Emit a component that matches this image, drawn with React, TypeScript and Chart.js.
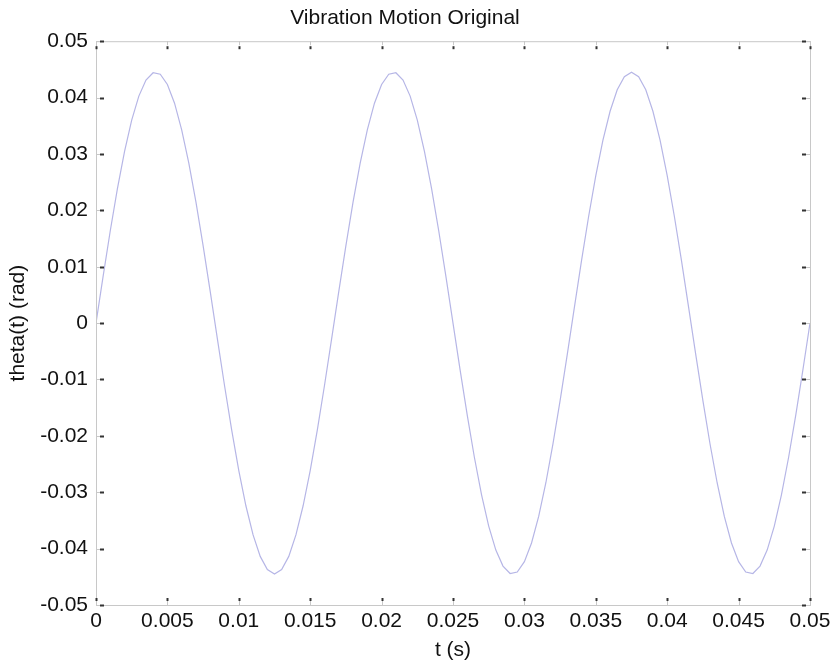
import React, { useEffect, useRef } from "react";
import { Chart, registerables } from "chart.js";

Chart.register(...registerables);

const timeValues = [
  0, 0.0005, 0.001, 0.0015, 0.002, 0.0025, 0.003, 0.0035, 0.004, 0.0045,
  0.005, 0.0055, 0.006, 0.0065, 0.007, 0.0075, 0.008, 0.0085, 0.009, 0.0095,
  0.01, 0.0105, 0.011, 0.0115, 0.012, 0.0125, 0.013, 0.0135, 0.014, 0.0145,
  0.015, 0.0155, 0.016, 0.0165, 0.017, 0.0175, 0.018, 0.0185, 0.019, 0.0195,
  0.02, 0.0205, 0.021, 0.0215, 0.022, 0.0225, 0.023, 0.0235, 0.024, 0.0245,
  0.025, 0.0255, 0.026, 0.0265, 0.027, 0.0275, 0.028, 0.0285, 0.029, 0.0295,
  0.03, 0.0305, 0.031, 0.0315, 0.032, 0.0325, 0.033, 0.0335, 0.034, 0.0345,
  0.035, 0.0355, 0.036, 0.0365, 0.037, 0.0375, 0.038, 0.0385, 0.039, 0.0395,
  0.04, 0.0405, 0.041, 0.0415, 0.042, 0.0425, 0.043, 0.0435, 0.044, 0.0445,
  0.045, 0.0455, 0.046, 0.0465, 0.047, 0.0475, 0.048, 0.0485, 0.049, 0.0495,
  0.05,
];

const thetaValues = [
  0, 0.00834, 0.01638, 0.02384, 0.03046, 0.036, 0.04026, 0.0431, 0.04441, 0.04415,
  0.04232, 0.039, 0.03429, 0.02836, 0.02144, 0.01375, 0.00558, -0.00279, -0.01107, -0.01895,
  -0.02616, -0.03244, -0.03757, -0.04138, -0.04371, -0.0445, -0.04371, -0.04138, -0.03757, -0.03244,
  -0.02616, -0.01895, -0.01107, -0.00279, 0.00558, 0.01375, 0.02144, 0.02836, 0.03429, 0.039,
  0.04232, 0.04415, 0.04441, 0.0431, 0.04026, 0.036, 0.03046, 0.02384, 0.01638, 0.00834,
  0, -0.00834, -0.01638, -0.02384, -0.03046, -0.036, -0.04026, -0.0431, -0.04441, -0.04415,
  -0.04232, -0.039, -0.03429, -0.02836, -0.02144, -0.01375, -0.00558, 0.00279, 0.01107, 0.01895,
  0.02616, 0.03244, 0.03757, 0.04138, 0.04371, 0.0445, 0.04371, 0.04138, 0.03757, 0.03244,
  0.02616, 0.01895, 0.01107, 0.00279, -0.00558, -0.01375, -0.02144, -0.02836, -0.03429, -0.039,
  -0.04232, -0.04415, -0.04441, -0.0431, -0.04026, -0.036, -0.03046, -0.02384, -0.01638, -0.00834,
  0,
];

const xTickValues = [0, 0.005, 0.01, 0.015, 0.02, 0.025, 0.03, 0.035, 0.04, 0.045, 0.05];
const xTickLabels = ["0", "0.005", "0.01", "0.015", "0.02", "0.025", "0.03", "0.035", "0.04", "0.045", "0.05"];
const yTickValues = [-0.05, -0.04, -0.03, -0.02, -0.01, 0, 0.01, 0.02, 0.03, 0.04, 0.05];
const yTickLabels = ["-0.05", "-0.04", "-0.03", "-0.02", "-0.01", "0", "0.01", "0.02", "0.03", "0.04", "0.05"];

const FONT = "'Liberation Sans', Arial, sans-serif";
const BOX_COLOR = "#c8c8c8";
const TICK_COLOR = "#333333";

const matlabBoxPlugin = {
  id: "matlabBox",
  afterDatasetsDraw(chart: any) {
    const { ctx, chartArea } = chart;
    const { left, right, top, bottom } = chartArea;
    ctx.save();
    ctx.strokeStyle = BOX_COLOR;
    ctx.lineWidth = 1;
    ctx.strokeRect(left + 0.5, top + 0.5, right - left, bottom - top);
    const xs = chart.scales.x;
    const ys = chart.scales.y;
    const drawMark = (x1: number, y1: number, x2: number, y2: number, color: string, w: number) => {
      ctx.strokeStyle = color;
      ctx.lineWidth = w;
      ctx.beginPath();
      ctx.moveTo(x1, y1);
      ctx.lineTo(x2, y2);
      ctx.stroke();
    };
    xTickValues.forEach((v) => {
      const px = Math.round(xs.getPixelForValue(v)) + 0.5;
      drawMark(px, bottom, px, bottom - 4, BOX_COLOR, 1);
      drawMark(px, bottom - 4, px, bottom - 7, TICK_COLOR, 2);
      drawMark(px, top, px, top + 4, BOX_COLOR, 1);
      drawMark(px, top + 5, px, top + 8, TICK_COLOR, 2);
    });
    yTickValues.forEach((v) => {
      const py = Math.round(ys.getPixelForValue(v)) + 0.5;
      drawMark(left, py, left + 4, py, BOX_COLOR, 1);
      drawMark(left + 4, py, left + 8, py, TICK_COLOR, 2);
      drawMark(right, py, right - 4, py, BOX_COLOR, 1);
      drawMark(right - 4, py, right - 8, py, TICK_COLOR, 2);
    });
    ctx.restore();
  },
};

export default function App() {
  const canvasRef = useRef<HTMLCanvasElement | null>(null);

  useEffect(() => {
    document.body.style.margin = "0";
    const canvas = canvasRef.current;
    if (!canvas) return;
    const chart = new Chart(canvas, {
      type: "line",
      data: {
        datasets: [
          {
            label: "theta",
            data: timeValues.map((t, i) => ({ x: t, y: thetaValues[i] })),
            borderColor: "rgb(182,182,230)",
            borderWidth: 1.2,
            pointRadius: 0,
            fill: false,
            tension: 0,
          },
        ],
      },
      options: {
        animation: false,
        responsive: false,
        maintainAspectRatio: false,
        layout: { padding: { left: 0, right: 26, top: 0, bottom: 0 } },
        plugins: {
          legend: { display: false },
          tooltip: { enabled: false },
          title: {
            display: true,
            text: "Vibration Motion Original",
            color: "#111111",
            font: { family: FONT, size: 21, weight: "normal" },
            padding: { top: 6, bottom: 10 },
          },
        },
        scales: {
          x: {
            type: "linear",
            min: 0,
            max: 0.05,
            grid: { display: false, drawTicks: false },
            border: { display: false },
            afterBuildTicks: (scale: any) => {
              scale.ticks = xTickValues.map((v) => ({ value: v }));
            },
            afterFit: (scale: any) => {
              scale.height = 63;
            },
            ticks: {
              color: "#111111",
              font: { family: FONT, size: 21 },
              padding: 4,
              maxRotation: 0,
              autoSkip: false,
              callback: (_v: any, i: number) => xTickLabels[i],
            },
            title: {
              display: true,
              text: "t (s)",
              color: "#111111",
              font: { family: FONT, size: 21 },
              padding: { top: 0, bottom: 5 },
            },
          },
          y: {
            type: "linear",
            min: -0.05,
            max: 0.05,
            grid: { display: false, drawTicks: false },
            border: { display: false },
            afterBuildTicks: (scale: any) => {
              scale.ticks = yTickValues.map((v) => ({ value: v }));
            },
            afterFit: (scale: any) => {
              scale.width = 96;
            },
            ticks: {
              color: "#111111",
              font: { family: FONT, size: 21 },
              padding: 8,
              autoSkip: false,
              callback: (_v: any, i: number) => yTickLabels[i],
            },
            title: {
              display: true,
              text: "theta(t) (rad)",
              color: "#111111",
              font: { family: FONT, size: 21 },
              padding: { top: 6, bottom: 0 },
            },
          },
        },
      },
      plugins: [matlabBoxPlugin],
    });
    return () => chart.destroy();
  }, []);

  return (
    <div style={{ position: "fixed", left: 0, top: 0, width: 836, height: 668, background: "#ffffff" }}>
      <canvas ref={canvasRef} width={836} height={668} style={{ width: 836, height: 668, display: "block" }} />
    </div>
  );
}
